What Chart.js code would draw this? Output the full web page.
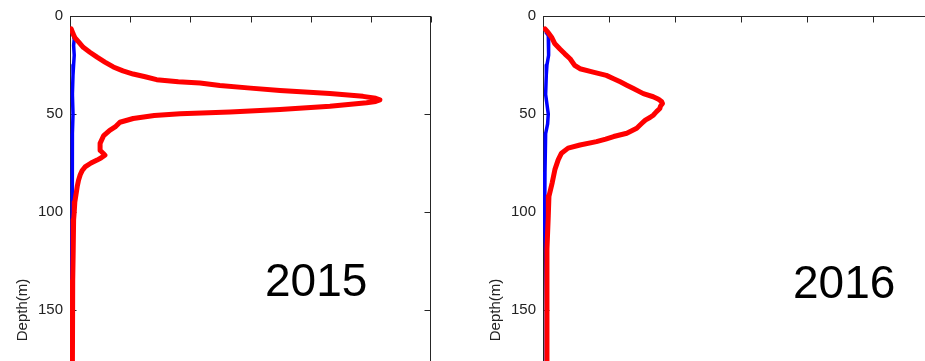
<!DOCTYPE html>
<html>
<head>
<meta charset="utf-8">
<script src="https://cdn.jsdelivr.net/npm/chart.js@4.4.0/dist/chart.umd.min.js"></script>
<style>
  html, body { margin: 0; padding: 0; background: #ffffff; }
  body { width: 925px; height: 361px; overflow: hidden; position: relative; }
  canvas { position: absolute; top: 0; }
  #panel2015 { left: 0px; }
  #panel2016 { left: 473px; }
</style>
</head>
<body>
<canvas id="panel2015" width="445" height="620"></canvas>
<canvas id="panel2016" width="480" height="620"></canvas>
<script>
// Axis ticks
const depthTicks = [0, 50, 100, 150, 200, 250, 300];
const valueTicks = [0, 1, 2, 3, 4, 5, 6];
const yearLabels = ['2015', '2016'];
const depthTitle = 'Depth(m)';

// 2015 profiles (depth in m, value)
const depthRed2015 = [6.6, 9, 11, 13.5, 16, 18.5, 21, 23.5, 26, 28, 29.6, 31, 32.5, 33.5, 34.2, 35.5, 36.8, 38, 39.6, 41, 42, 42.8, 43.6, 44.3, 46, 47.7, 49, 49.9, 50.8, 52.3, 54.2, 56.6, 58.3, 61, 65, 68.5, 70, 71, 72.3, 73.5, 75, 77, 79, 81, 84, 87, 91, 95, 100, 104, 112, 121, 135, 150, 165, 180];
const valueRed2015 = [0.02, 0.05, 0.08, 0.15, 0.22, 0.33, 0.45, 0.58, 0.72, 0.88, 1.05, 1.25, 1.44, 1.8, 2.16, 2.49, 3.0, 3.49, 4.32, 4.87, 5.08, 5.15, 5.08, 4.93, 4.32, 3.49, 2.66, 1.83, 1.4, 1.05, 0.83, 0.75, 0.66, 0.56, 0.5, 0.5, 0.55, 0.58, 0.52, 0.45, 0.35, 0.25, 0.2, 0.17, 0.14, 0.12, 0.1, 0.08, 0.07, 0.06, 0.055, 0.05, 0.045, 0.04, 0.04, 0.04];
const depthBlue2015 = [9, 12, 15, 20, 25, 30, 40, 50, 60, 70, 80, 90, 100, 110, 130, 150, 180];
const valueBlue2015 = [0.05, 0.07, 0.06, 0.07, 0.06, 0.05, 0.04, 0.05, 0.04, 0.04, 0.04, 0.035, 0.035, 0.03, 0.03, 0.03, 0.03];

// 2016 profiles (depth in m, value)
const depthRed2016 = [6.6, 8.5, 10.8, 14.2, 17, 19.3, 21.8, 25.2, 26.9, 28.6, 30.3, 32, 33.6, 35.3, 37, 39.6, 41.2, 42.5, 43.8, 44.6, 46, 47.2, 48.8, 50.6, 51.8, 53.1, 55, 57.3, 59.8, 61.5, 62.8, 64.1, 65.8, 67.4, 70, 73.4, 78.4, 85, 92, 102, 119, 144, 180];
const valueRed2016 = [0.03, 0.08, 0.13, 0.18, 0.26, 0.33, 0.41, 0.48, 0.56, 0.76, 0.96, 1.07, 1.17, 1.27, 1.37, 1.52, 1.67, 1.75, 1.8, 1.81, 1.78, 1.77, 1.72, 1.67, 1.62, 1.55, 1.49, 1.42, 1.27, 1.07, 0.95, 0.81, 0.56, 0.38, 0.28, 0.23, 0.18, 0.14, 0.09, 0.08, 0.06, 0.06, 0.06];
const depthBlue2016 = [8, 10, 15, 20, 25, 30, 40, 45, 50, 55, 60, 70, 80, 90, 100, 105, 120, 148, 180];
const valueBlue2016 = [0.04, 0.08, 0.09, 0.08, 0.06, 0.05, 0.04, 0.06, 0.08, 0.07, 0.04, 0.035, 0.03, 0.03, 0.025, 0.02, 0.04, 0.05, 0.05];

function profilePoints(depths, values) {
  return depths.map((d, i) => ({ x: values[i], y: d }));
}

const FONT = "'Liberation Sans', Arial, Helvetica, sans-serif";

// Boxed axes with inward tick marks, plus the year caption inside the axes
const boxPlugin = {
  id: 'box',
  beforeDatasetsDraw(chart) {
    const { ctx, chartArea: a, scales: { x, y } } = chart;
    const L = Math.round(a.left) + 0.5, R = Math.round(a.right) - 0.5;
    const T = Math.round(a.top) + 0.5, B = Math.round(a.bottom) - 0.5;
    ctx.save();
    ctx.strokeStyle = '#262626';
    ctx.lineWidth = 1;
    ctx.strokeRect(L, T, R - L, B - T);
    ctx.beginPath();
    valueTicks.forEach(v => {
      const px = Math.round(x.getPixelForValue(v)) + 0.5;
      ctx.moveTo(px, T); ctx.lineTo(px, T + 6);
      ctx.moveTo(px, B); ctx.lineTo(px, B - 6);
    });
    depthTicks.forEach(v => {
      const py = Math.round(y.getPixelForValue(v)) + 0.5;
      ctx.moveTo(L, py); ctx.lineTo(L + 6, py);
      ctx.moveTo(R, py); ctx.lineTo(R - 6, py);
    });
    ctx.stroke();
    ctx.restore();
  },
  afterDraw(chart, args, opts) {
    if (!opts.text) return;
    const { ctx, chartArea: a } = chart;
    ctx.save();
    ctx.fillStyle = '#000000';
    ctx.font = '46px ' + FONT;
    ctx.textBaseline = 'alphabetic';
    ctx.textAlign = 'left';
    ctx.fillText(opts.text, a.left + opts.dx, a.top + opts.dy);
    ctx.restore();
  }
};

function makePanel(id, redDepths, redValues, blueDepths, blueValues, caption, pad) {
  new Chart(document.getElementById(id), {
    type: 'scatter',
    data: {
      datasets: [
        {
          data: profilePoints(redDepths, redValues),
          showLine: true,
          borderColor: '#ff0000',
          backgroundColor: '#ff0000',
          borderWidth: 5,
          pointRadius: 0,
          borderJoinStyle: 'round',
          borderCapStyle: 'round',
          tension: 0
        },
        {
          data: profilePoints(blueDepths, blueValues),
          showLine: true,
          borderColor: '#0000ff',
          backgroundColor: '#0000ff',
          borderWidth: 3.5,
          pointRadius: 0,
          borderJoinStyle: 'round',
          tension: 0
        }
      ]
    },
    options: {
      responsive: false,
      animation: false,
      devicePixelRatio: 1,
      layout: { padding: pad },
      plugins: {
        legend: { display: false },
        tooltip: { enabled: false },
        box: caption
      },
      scales: {
        x: {
          type: 'linear',
          min: 0,
          max: 6,
          display: false
        },
        y: {
          type: 'linear',
          position: 'left',
          reverse: true,
          min: 0,
          max: 300,
          afterFit: s => { s.width = 70; },
          afterBuildTicks: s => { s.ticks = depthTicks.map(v => ({ value: v })); },
          grid: { display: false, drawTicks: false },
          border: { display: false },
          ticks: {
            padding: 7,
            color: '#222222',
            font: { family: FONT, size: 15 }
          },
          title: {
            display: true,
            text: depthTitle,
            color: '#222222',
            font: { family: FONT, size: 15 },
            padding: { top: 14, bottom: 0 }
          }
        }
      }
    },
    plugins: [boxPlugin]
  });
}

makePanel('panel2015', depthRed2015, valueRed2015, depthBlue2015, valueBlue2015,
  { text: yearLabels[0], dx: 195, dy: 280 },
  { top: 15, right: 14, bottom: 13, left: 0 });

makePanel('panel2016', depthRed2016, valueRed2016, depthBlue2016, valueBlue2016,
  { text: yearLabels[1], dx: 250, dy: 282 },
  { top: 12, right: 14, bottom: 15.5, left: 0 });
</script>
</body>
</html>
